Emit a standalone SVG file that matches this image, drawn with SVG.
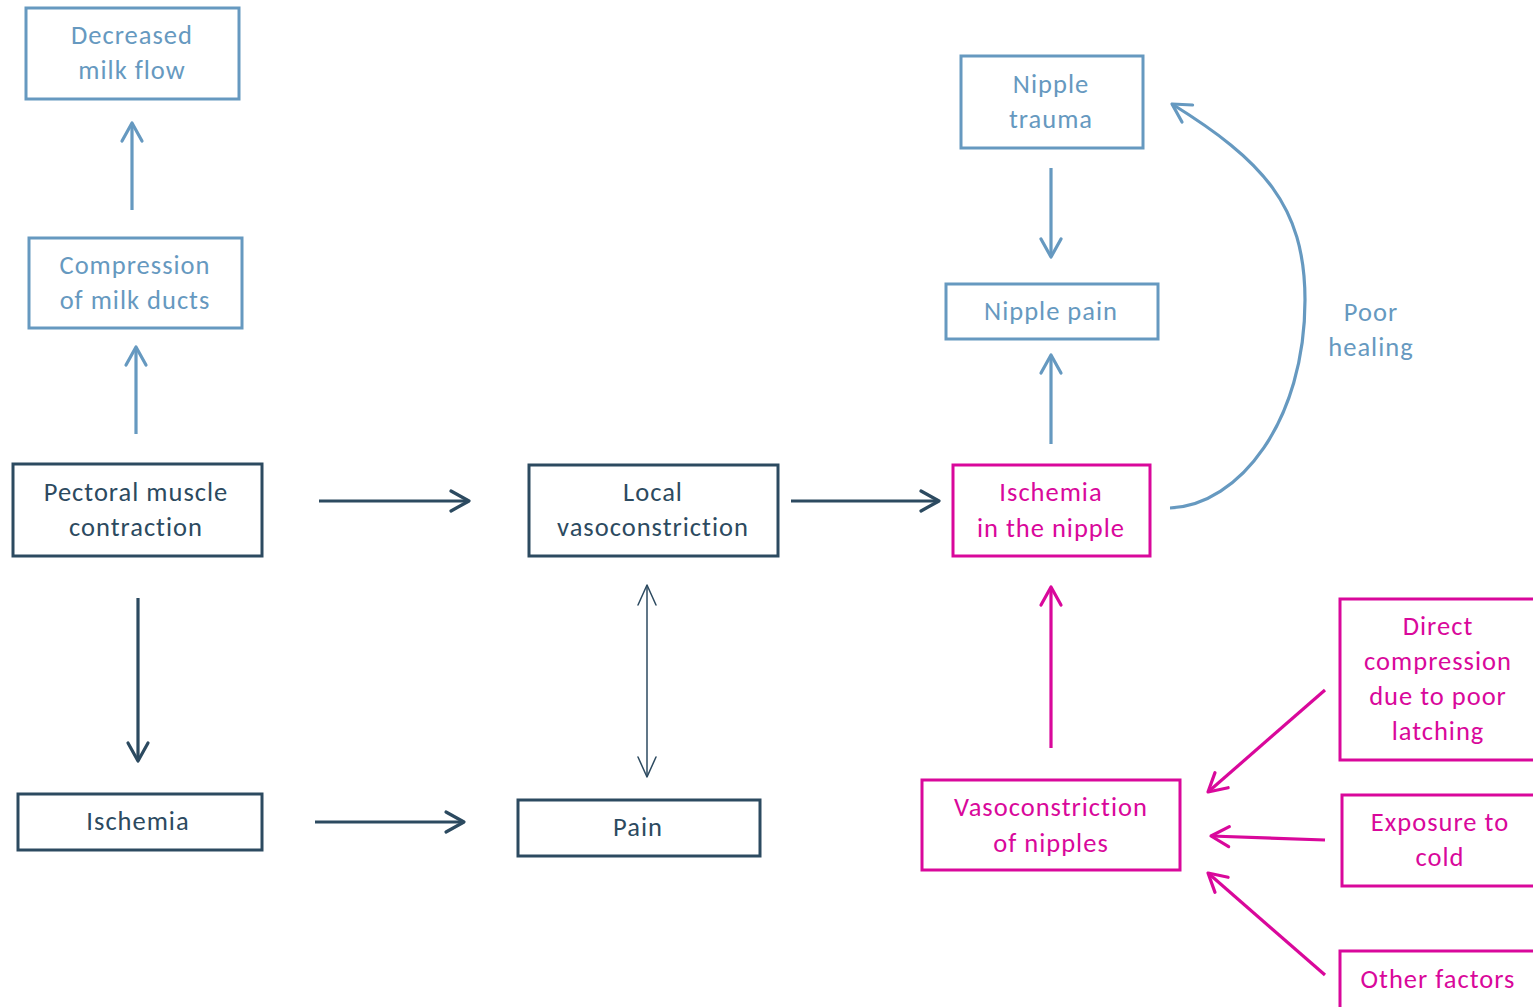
<svg xmlns="http://www.w3.org/2000/svg" width="1533" height="1007" viewBox="0 0 1533 1007">
  <style>
    .box { fill: #ffffff; stroke-width: 3; }
    .blue { stroke: #6699c0; }
    .navy { stroke: #2c4a60; }
    .pink { stroke: #d9089b; }
    .lbl { font-family: Carlito, Lato, "Liberation Sans", sans-serif; font-size: 26.5px; letter-spacing: 1px; text-anchor: middle; dominant-baseline: central; }
    .tblue { fill: #6699c0; }
    .tnavy { fill: #2c4a60; }
    .tpink { fill: #d9089b; }
    .edge { fill: none; stroke-width: 3.2; }
    .thin { fill: none; stroke-width: 1.5; }
  </style>
  <defs>
    <marker id="hBlue" markerUnits="userSpaceOnUse" markerWidth="30" markerHeight="30" viewBox="-25 -15 30 30" refX="0" refY="0" orient="auto">
      <path d="M-18,-10 L0,0 L-18,10" fill="none" stroke="#6699c0" stroke-width="3.2" stroke-linecap="round" stroke-linejoin="round"/>
    </marker>
    <marker id="hNavy" markerUnits="userSpaceOnUse" markerWidth="30" markerHeight="30" viewBox="-25 -15 30 30" refX="0" refY="0" orient="auto">
      <path d="M-18,-10 L0,0 L-18,10" fill="none" stroke="#2c4a60" stroke-width="3.2" stroke-linecap="round" stroke-linejoin="round"/>
    </marker>
    <marker id="hPink" markerUnits="userSpaceOnUse" markerWidth="30" markerHeight="30" viewBox="-25 -15 30 30" refX="0" refY="0" orient="auto">
      <path d="M-18,-10 L0,0 L-18,10" fill="none" stroke="#d9089b" stroke-width="3.2" stroke-linecap="round" stroke-linejoin="round"/>
    </marker>
    <marker id="hThin" markerUnits="userSpaceOnUse" markerWidth="30" markerHeight="30" viewBox="-25 -15 30 30" refX="0" refY="0" orient="auto-start-reverse">
      <path d="M-20,-9 L0,0 L-20,9" fill="none" stroke="#2c4a60" stroke-width="1.5" stroke-linecap="round" stroke-linejoin="round"/>
    </marker>
  </defs>

  <rect width="1533" height="1007" fill="#ffffff"/>

  <!-- connectors -->
  <g id="connectors">
    <!-- light blue chain -->
    <path class="edge blue" d="M132,210 L132,123" marker-end="url(#hBlue)"/>
    <path class="edge blue" d="M136,434 L136,347" marker-end="url(#hBlue)"/>
    <path class="edge blue" d="M1051,168 L1051,257" marker-end="url(#hBlue)"/>
    <path class="edge blue" d="M1051,444 L1051,355" marker-end="url(#hBlue)"/>
    <path class="edge blue" d="M1170,508 C1240,505 1305,420 1305,300 C1305,205 1262,160 1172,104" marker-end="url(#hBlue)"/>
    <!-- navy chain -->
    <path class="edge navy" d="M319,501 L469,501" marker-end="url(#hNavy)"/>
    <path class="edge navy" d="M791,501 L939,501" marker-end="url(#hNavy)"/>
    <path class="edge navy" d="M138,598 L138,761" marker-end="url(#hNavy)"/>
    <path class="edge navy" d="M315,822 L464,822" marker-end="url(#hNavy)"/>
    <path class="thin navy" d="M647,585 L647,777" marker-start="url(#hThin)" marker-end="url(#hThin)"/>
    <!-- magenta chain -->
    <path class="edge pink" d="M1051,748 L1051,587" marker-end="url(#hPink)"/>
    <path class="edge pink" d="M1325,690 L1208,792" marker-end="url(#hPink)"/>
    <path class="edge pink" d="M1325,840 L1211,836" marker-end="url(#hPink)"/>
    <path class="edge pink" d="M1325,975 L1208,873" marker-end="url(#hPink)"/>
  </g>

  <!-- edge label -->
  <g id="label-poor-healing">
    <text class="lbl tblue" x="1371" y="312">Poor</text>
    <text class="lbl tblue" x="1371" y="347">healing</text>
  </g>

  <!-- light blue nodes -->
  <g id="decreased-milk-flow">
    <rect class="box blue" x="26" y="8" width="213" height="91"/>
    <text class="lbl tblue" x="132" y="35">Decreased</text>
    <text class="lbl tblue" x="132" y="70">milk flow</text>
  </g>
  <g id="compression-milk-ducts">
    <rect class="box blue" x="29" y="238" width="213" height="90"/>
    <text class="lbl tblue" x="135" y="265">Compression</text>
    <text class="lbl tblue" x="135" y="300">of milk ducts</text>
  </g>
  <g id="nipple-trauma">
    <rect class="box blue" x="961" y="56" width="182" height="92"/>
    <text class="lbl tblue" x="1051" y="84">Nipple</text>
    <text class="lbl tblue" x="1051" y="119">trauma</text>
  </g>
  <g id="nipple-pain">
    <rect class="box blue" x="946" y="284" width="212" height="55"/>
    <text class="lbl tblue" x="1051" y="311">Nipple pain</text>
  </g>

  <!-- navy nodes -->
  <g id="pectoral-muscle-contraction">
    <rect class="box navy" x="13" y="464" width="249" height="92"/>
    <text class="lbl tnavy" x="136" y="492">Pectoral muscle</text>
    <text class="lbl tnavy" x="136" y="527">contraction</text>
  </g>
  <g id="local-vasoconstriction">
    <rect class="box navy" x="529" y="465" width="249" height="91"/>
    <text class="lbl tnavy" x="653" y="492">Local</text>
    <text class="lbl tnavy" x="653" y="527">vasoconstriction</text>
  </g>
  <g id="ischemia">
    <rect class="box navy" x="18" y="794" width="244" height="56"/>
    <text class="lbl tnavy" x="138" y="821">Ischemia</text>
  </g>
  <g id="pain">
    <rect class="box navy" x="518" y="800" width="242" height="56"/>
    <text class="lbl tnavy" x="638" y="827">Pain</text>
  </g>

  <!-- magenta nodes -->
  <g id="ischemia-nipple">
    <rect class="box pink" x="953" y="465" width="197" height="91"/>
    <text class="lbl tpink" x="1051" y="492">Ischemia</text>
    <text class="lbl tpink" x="1051" y="528">in the nipple</text>
  </g>
  <g id="vasoconstriction-nipples">
    <rect class="box pink" x="922" y="780" width="258" height="90"/>
    <text class="lbl tpink" x="1051" y="807">Vasoconstriction</text>
    <text class="lbl tpink" x="1051" y="843">of nipples</text>
  </g>
  <g id="direct-compression">
    <rect class="box pink" x="1340" y="599" width="200" height="161"/>
    <text class="lbl tpink" x="1438" y="626">Direct</text>
    <text class="lbl tpink" x="1438" y="661">compression</text>
    <text class="lbl tpink" x="1438" y="696">due to poor</text>
    <text class="lbl tpink" x="1438" y="731">latching</text>
  </g>
  <g id="exposure-cold">
    <rect class="box pink" x="1342" y="795" width="200" height="91"/>
    <text class="lbl tpink" x="1440" y="822">Exposure to</text>
    <text class="lbl tpink" x="1440" y="857">cold</text>
  </g>
  <g id="other-factors">
    <rect class="box pink" x="1340" y="951" width="200" height="60"/>
    <text class="lbl tpink" x="1438" y="979">Other factors</text>
  </g>
</svg>
